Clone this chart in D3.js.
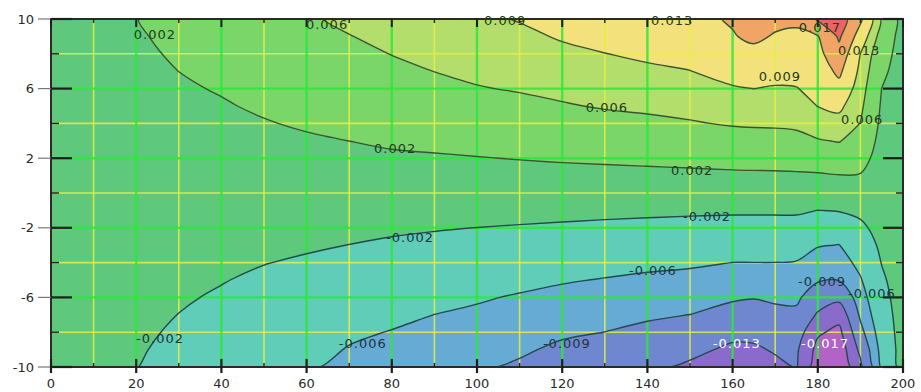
<!DOCTYPE html>
<html>
<head>
<meta charset="utf-8">
<script src="https://cdn.jsdelivr.net/npm/d3@7"></script>
<style>
  html, body { margin: 0; padding: 0; background: #fff; }
  svg { display: block; font-family: "DejaVu Sans", Verdana, sans-serif; }
</style>
</head>
<body>
<svg id="chart" width="921" height="392"></svg>
<script>
// Grid nodes of the sampled field (x across, y from top row to bottom row)
const xNodes = [0,10,20,30,40,50,60,70,80,90,100,110,120,130,140,150,160,165,170,175,180,185,190,195,200];
const yNodes = [10,9,8,7,6,5,4,3,2,1,0,-1,-2,-3,-4,-5,-6,-7,-8,-9,-10];

// Field values in units of 1e-3, one row per y node
const fieldMilli = [
  [1.2,1.5,1.95,2.86,3.8,4.76,5.7,6.47,7.15,7.82,8.5,9.15,10.15,11.07,12.0,12.1,13.3,14.6,13.8,13.6,17.5,19.1,13.7,5.5,0.6],
  [1.1,1.4,1.76,2.57,3.4,4.28,5.13,5.93,6.6,7.23,7.85,8.41,9.26,10.0,10.77,11.18,12.8,13.62,12.73,12.41,12.8,17.57,11.3,4.5,0.54],
  [1.0,1.2,1.56,2.29,3.0,3.8,4.56,5.28,6.06,6.63,7.2,7.68,8.4,8.95,9.55,10.06,11.44,12.14,11.4,11.24,11.88,15.8,8.96,3.5,0.48],
  [0.8,1.1,1.37,2.01,2.58,3.3,3.99,4.62,5.4,6.03,6.55,6.95,7.54,8.05,8.47,8.95,10.09,10.57,10.07,10.06,10.94,13.8,8.21,2.7,0.42],
  [0.7,0.9,1.17,1.71,2.17,2.8,3.42,3.97,4.64,5.18,5.85,6.22,6.69,7.14,7.5,7.91,8.75,9.02,8.76,8.88,10.0,11.77,7.46,1.98,0.36],
  [0.6,0.8,0.98,1.43,1.8,2.33,2.85,3.31,3.89,4.32,4.86,5.26,5.77,6.23,6.53,6.88,7.5,7.69,7.59,7.73,9.05,9.72,6.71,1.6,0.3],
  [0.5,0.6,0.78,1.14,1.44,1.86,2.28,2.66,3.13,3.46,3.88,4.2,4.61,5.03,5.38,5.78,6.25,6.37,6.41,6.58,7.46,7.89,5.93,1.25,0.24],
  [0.4,0.5,0.59,0.86,1.08,1.4,1.71,2.01,2.38,2.6,2.89,3.16,3.45,3.74,4.0,4.3,4.7,4.8,4.89,5.11,5.79,6.17,4.57,0.9,0.18],
  [0.2,0.3,0.39,0.57,0.72,0.93,1.14,1.33,1.6,1.74,1.9,2.1,2.29,2.45,2.62,2.81,3.06,3.13,3.19,3.33,3.68,4.05,3.22,0.6,0.12],
  [0.1,0.2,0.2,0.29,0.36,0.47,0.57,0.67,0.8,0.87,0.95,1.05,1.14,1.21,1.29,1.38,1.48,1.52,1.54,1.6,1.67,1.9,1.82,0.3,0.06],
  [0,0,0,0,0,0,0,0,0,0,0,0,0,0,0,0,0,0,0,0,0,0,0,0,0],
  [-0.1,-0.2,-0.2,-0.29,-0.38,-0.48,-0.57,-0.68,-0.8,-0.91,-1.0,-1.11,-1.21,-1.33,-1.43,-1.54,-1.6,-1.6,-1.6,-1.6,-2.02,-1.82,-1.33,-0.4,-0.06],
  [-0.2,-0.3,-0.39,-0.58,-0.75,-0.96,-1.14,-1.36,-1.6,-1.82,-2.02,-2.2,-2.39,-2.6,-2.77,-2.93,-3.09,-3.09,-3.09,-3.13,-3.9,-4.05,-2.62,-0.9,-0.12],
  [-0.4,-0.5,-0.59,-0.87,-1.13,-1.45,-1.72,-2.03,-2.38,-2.67,-2.93,-3.23,-3.52,-3.79,-4.06,-4.27,-4.55,-4.55,-4.55,-4.64,-5.81,-6.07,-3.85,-1.4,-0.18],
  [-0.5,-0.6,-0.78,-1.16,-1.51,-1.93,-2.29,-2.74,-3.14,-3.5,-3.86,-4.26,-4.65,-4.99,-5.35,-5.6,-6.02,-6.02,-6.02,-6.15,-7.29,-7.46,-5.08,-1.9,-0.24],
  [-0.6,-0.8,-0.98,-1.45,-1.89,-2.42,-2.86,-3.45,-3.9,-4.33,-4.79,-5.28,-5.77,-6.14,-6.52,-6.78,-7.3,-7.57,-7.25,-7.27,-8.71,-8.86,-6.27,-2.5,-0.3],
  [-0.7,-0.9,-1.17,-1.74,-2.26,-2.9,-3.43,-4.16,-4.67,-5.17,-5.72,-6.24,-6.74,-7.1,-7.55,-7.89,-8.6,-8.86,-8.5,-8.42,-10.94,-12.0,-7.36,-3.1,-0.36],
  [-0.8,-1.1,-1.37,-2.03,-2.64,-3.38,-4.0,-4.87,-5.43,-6.02,-6.45,-7.03,-7.66,-8.05,-8.59,-9.02,-10.22,-10.38,-9.83,-9.69,-13.44,-15.55,-8.45,-3.7,-0.42],
  [-1.0,-1.2,-1.56,-2.32,-3.02,-3.86,-4.58,-5.58,-6.1,-6.64,-7.2,-7.82,-8.58,-9.02,-9.69,-10.54,-11.96,-11.92,-11.2,-11.07,-16.41,-18.0,-10.0,-4.3,-0.48],
  [-1.1,-1.4,-1.76,-2.61,-3.4,-4.33,-5.15,-6.15,-6.67,-7.3,-7.93,-8.6,-9.55,-10.17,-10.98,-12.08,-13.7,-13.6,-12.59,-12.45,-18.2,-19.5,-12.0,-4.9,-0.54],
  [-1.2,-1.5,-1.95,-2.9,-3.8,-4.8,-5.75,-6.54,-7.25,-7.96,-8.67,-9.4,-10.41,-11.34,-12.26,-13.6,-15.2,-15.0,-13.97,-12.8,-19.5,-20.5,-14.0,-5.5,-0.6]
];

// Contour levels and the fill of each band (below first level ... above last level)
const levels = [-0.017,-0.013,-0.009,-0.006,-0.002,0.002,0.006,0.009,0.013,0.017];
const bandColors = ["#b263c6","#8a6acb","#6f87cf","#66abd4","#5fcdb8","#5ec97c","#7bd66a","#b4de6b","#f3e27b","#f0a566","#ee6264"];

// Axis ticks
const xTicks = [0,20,40,60,80,100,120,140,160,180,200];
const xMinor = [10,30,50,70,90,110,130,150,170,190];
const yTicks = [10,6,2,-2,-6,-10];
const yMinor = [8,4,0,-4,-8];

// Contour label anchors: [x, y, level]
const labelSpots = [
  [24.4, 9.1, 0.002], [64.8, 9.7, 0.006], [106.6, 9.9, 0.009], [145.8, 9.9, 0.013],
  [180.5, 9.55, 0.017], [189.7, 8.2, 0.013], [171.1, 6.72, 0.009], [130.5, 4.9, 0.006],
  [190.4, 4.25, 0.006], [80.8, 2.59, 0.002], [150.5, 1.32, 0.002],
  [154.0, -1.32, -0.002], [84.3, -2.53, -0.002], [141.3, -4.43, -0.006],
  [181.0, -5.1, -0.009], [192.7, -5.75, -0.006], [25.6, -8.33, -0.002],
  [73.2, -8.62, -0.006], [121.1, -8.62, -0.009], [161.0, -8.62, -0.013], [181.7, -8.62, -0.017]
];

const svg = d3.select("#chart");
const plot = { left: 51, right: 903, top: 19, bottom: 367 };
const x = d3.scaleLinear().domain([0, 200]).range([plot.left, plot.right]);
const y = d3.scaleLinear().domain([-10, 10]).range([plot.bottom, plot.top]);

const nx = xNodes.length, ny = yNodes.length;
const values = [];
fieldMilli.forEach(row => row.forEach(v => values.push(v * 1e-3)));

// grid index -> data coordinate (piecewise, as nodes are not evenly spaced)
const ix = d3.scaleLinear().domain(d3.range(nx)).range(xNodes);
const iy = d3.scaleLinear().domain(d3.range(ny)).range(yNodes);
function toPx(p) {
  const gx = Math.max(0, Math.min(nx - 1, p[0] - 0.5));
  const gy = Math.max(0, Math.min(ny - 1, p[1] - 0.5));
  return [x(ix(gx)), y(iy(gy))];
}

const contours = d3.contours().size([nx, ny]).thresholds(levels)(values);
const ringLine = d3.line().curve(d3.curveCatmullRomClosed.alpha(0.5));
function pathOf(geom) {
  let d = "";
  geom.coordinates.forEach(poly => poly.forEach(ring => {
    const pts = ring.slice(0, -1).map(toPx);
    if (pts.length >= 3) d += ringLine(pts);
  }));
  return d;
}

const defs = svg.append("defs");
defs.append("clipPath").attr("id", "plotClip")
  .append("rect")
  .attr("x", plot.left).attr("y", plot.top)
  .attr("width", plot.right - plot.left).attr("height", plot.bottom - plot.top);

const body = svg.append("g").attr("clip-path", "url(#plotClip)");

// lowest band as the base, then each level's region on top
body.append("rect")
  .attr("x", plot.left).attr("y", plot.top)
  .attr("width", plot.right - plot.left).attr("height", plot.bottom - plot.top)
  .attr("fill", bandColors[0]);

body.append("g").selectAll("path").data(contours).join("path")
  .attr("d", pathOf)
  .attr("fill", (d, i) => bandColors[i + 1])
  .attr("fill-rule", "evenodd")
  .attr("stroke", (d, i) => bandColors[i + 1])
  .attr("stroke-width", 0.5);

// grid: yellow minor lines, bright green major lines
const grid = body.append("g");
grid.selectAll("line.vmin").data(xMinor).join("line")
  .attr("x1", d => x(d)).attr("x2", d => x(d))
  .attr("y1", plot.top).attr("y2", plot.bottom)
  .attr("stroke", "#e6f045").attr("stroke-width", 1.6).attr("opacity", 0.85);
grid.selectAll("line.hmin").data(yMinor).join("line")
  .attr("y1", d => y(d)).attr("y2", d => y(d))
  .attr("x1", plot.left).attr("x2", plot.right)
  .attr("stroke", "#e6f045").attr("stroke-width", 1.6).attr("opacity", 0.85);
grid.selectAll("line.vmaj").data(xTicks.slice(1, -1)).join("line")
  .attr("x1", d => x(d)).attr("x2", d => x(d))
  .attr("y1", plot.top).attr("y2", plot.bottom)
  .attr("stroke", "#2ee83c").attr("stroke-width", 2.4).attr("opacity", 0.85);
grid.selectAll("line.hmaj").data(yTicks.slice(1, -1)).join("line")
  .attr("y1", d => y(d)).attr("y2", d => y(d))
  .attr("x1", plot.left).attr("x2", plot.right)
  .attr("stroke", "#2ee83c").attr("stroke-width", 2.4).attr("opacity", 0.85);

// isolines
body.append("g").selectAll("path").data(contours).join("path")
  .attr("d", pathOf)
  .attr("fill", "none")
  .attr("stroke", (d, i) => levels[i] > 0 ? "#3a5530" : "#234a4c")
  .attr("stroke-width", 1.4)
  .attr("stroke-linejoin", "round");

// frame
svg.append("rect")
  .attr("x", plot.left).attr("y", plot.top)
  .attr("width", plot.right - plot.left).attr("height", plot.bottom - plot.top)
  .attr("fill", "none").attr("stroke", "#2a2a2a").attr("stroke-width", 2);

// ticks
const ticks = svg.append("g").attr("stroke", "#1d1d1d");
yTicks.forEach(v => {
  ticks.append("line").attr("x1", plot.left - 13).attr("x2", plot.left).attr("y1", y(v)).attr("y2", y(v))
    .attr("stroke", "#777").attr("stroke-width", 1.2);
  ticks.append("line").attr("x1", plot.left).attr("x2", plot.left + 21).attr("y1", y(v)).attr("y2", y(v))
    .attr("stroke-width", 2.2);
  ticks.append("line").attr("x1", plot.right - 20).attr("x2", plot.right).attr("y1", y(v)).attr("y2", y(v))
    .attr("stroke-width", 2.2);
});
yMinor.forEach(v => {
  ticks.append("line").attr("x1", plot.left).attr("x2", plot.left + 8).attr("y1", y(v)).attr("y2", y(v))
    .attr("stroke-width", 1.4);
  ticks.append("line").attr("x1", plot.right - 7).attr("x2", plot.right).attr("y1", y(v)).attr("y2", y(v))
    .attr("stroke-width", 1.4);
});
xTicks.forEach(v => {
  ticks.append("line").attr("x1", x(v)).attr("x2", x(v)).attr("y1", plot.bottom - 8).attr("y2", plot.bottom + 6)
    .attr("stroke-width", 2.2);
  ticks.append("line").attr("x1", x(v)).attr("x2", x(v)).attr("y1", plot.top).attr("y2", plot.top + 8)
    .attr("stroke-width", 2);
});
xMinor.forEach(v => {
  ticks.append("line").attr("x1", x(v)).attr("x2", x(v)).attr("y1", plot.bottom - 4).attr("y2", plot.bottom)
    .attr("stroke-width", 1.4);
  ticks.append("line").attr("x1", x(v)).attr("x2", x(v)).attr("y1", plot.top).attr("y2", plot.top + 4)
    .attr("stroke-width", 1.4);
});

// tick labels
svg.append("g").selectAll("text").data(yTicks).join("text")
  .attr("x", 34).attr("y", d => y(d)).attr("dy", "0.36em")
  .attr("text-anchor", "end").attr("font-size", 13).attr("fill", "#2a2a2a")
  .text(d => String(d));
svg.append("g").selectAll("text").data(xTicks).join("text")
  .attr("x", d => x(d)).attr("y", 388)
  .attr("text-anchor", "middle").attr("font-size", 13).attr("fill", "#2a2a2a")
  .text(d => String(d));

// contour labels, written with a plain hyphen for negatives
const fmt = v => (v < 0 ? "-" : "") + Math.abs(v).toFixed(3);
svg.append("g").selectAll("text").data(labelSpots).join("text")
  .attr("x", d => x(d[0])).attr("y", d => y(d[1])).attr("dy", "0.36em")
  .attr("text-anchor", "middle").attr("font-size", 13).attr("letter-spacing", 1)
  .attr("fill", d => d[2] <= -0.013 ? "#ffffff" : (d[2] > 0 ? "#223a1f" : "#1d3440"))
  .text(d => fmt(d[2]));
</script>
</body>
</html>
